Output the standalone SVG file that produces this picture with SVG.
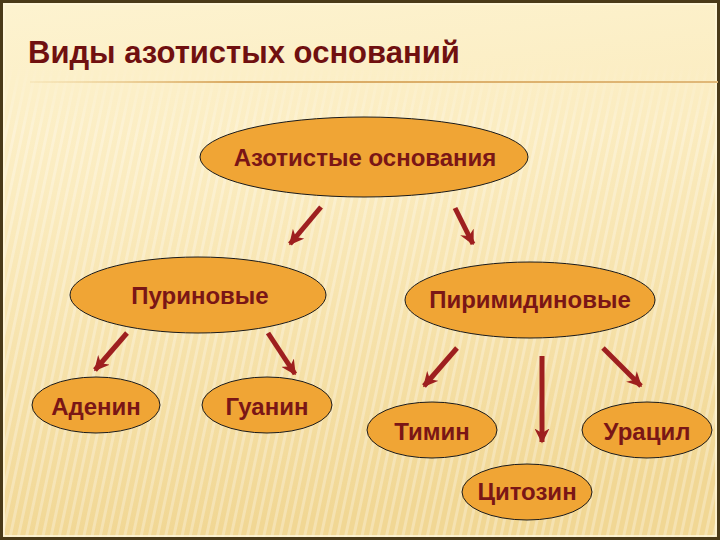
<svg xmlns="http://www.w3.org/2000/svg" width="720" height="540" viewBox="0 0 720 540">
<defs>
<linearGradient id="bg" x1="0" y1="0" x2="0.15" y2="1">
<stop offset="0" stop-color="#FDF3D0"/>
<stop offset="0.35" stop-color="#FBECC0"/>
<stop offset="1" stop-color="#F1D794"/>
</linearGradient>
<linearGradient id="rule" x1="0" y1="0" x2="1" y2="0">
<stop offset="0" stop-color="#E8C888" stop-opacity="0.2"/>
<stop offset="0.3" stop-color="#D9A860"/>
<stop offset="1" stop-color="#E0B878"/>
</linearGradient>
<pattern id="stripes" width="8" height="8" patternUnits="userSpaceOnUse" patternTransform="rotate(12)">
<rect x="0" y="0" width="3" height="8" fill="#FFFFFF" fill-opacity="0.28"/>
</pattern>
<linearGradient id="fade" x1="0" y1="0" x2="0" y2="1">
<stop offset="0" stop-color="#fff" stop-opacity="0"/>
<stop offset="0.15" stop-color="#fff" stop-opacity="1"/>
<stop offset="1" stop-color="#fff" stop-opacity="1"/>
</linearGradient>
<mask id="m"><rect x="0" y="60" width="720" height="480" fill="url(#fade)"/></mask>
<marker id="ah" viewBox="0 0 10 10" refX="9" refY="5" markerWidth="3" markerHeight="3" orient="auto" markerUnits="strokeWidth">
<path d="M0,0 L10,5 L0,10 L3,5 Z" fill="#9E1F1F"/>
</marker>
<style>
.nd{fill:#F0A535;stroke:#1a1a1a;stroke-width:1}
.lb{font-family:"Liberation Sans",Arial,sans-serif;font-weight:bold;font-size:24px;fill:#7A1616;text-anchor:middle}
.ar{stroke:#9E1F1F;stroke-width:5;fill:none;marker-end:url(#ah)}
</style>
</defs>
<rect width="720" height="540" fill="url(#bg)"/>
<rect width="720" height="540" fill="url(#stripes)" mask="url(#m)"/>
<rect x="1.5" y="1.5" width="717" height="537" fill="none" stroke="#4A3A18" stroke-width="3"/>
<rect x="4" y="4" width="712" height="532" fill="none" stroke="#FFF8DD" stroke-width="1.5"/>
<text x="28" y="63" font-family="'Liberation Sans',Arial,sans-serif" font-weight="bold" font-size="31" fill="#701010">Виды азотистых оснований</text>
<rect x="30" y="81" width="688" height="2" fill="url(#rule)"/>
<g id="connectors">
<line class="ar" x1="321" y1="207" x2="290" y2="244"/>
<line class="ar" x1="455" y1="208" x2="473" y2="244"/>
<line class="ar" x1="127" y1="333" x2="95" y2="370"/>
<line class="ar" x1="268" y1="333" x2="295" y2="374"/>
<line class="ar" x1="457" y1="348" x2="424" y2="386"/>
<line class="ar" x1="542" y1="356" x2="542" y2="442"/>
<line class="ar" x1="603" y1="348" x2="641" y2="386"/>
</g>
<g id="root"><ellipse class="nd" cx="364" cy="157" rx="164" ry="40"/><text class="lb" x="365" y="166">Азотистые основания</text></g>
<g id="purine"><ellipse class="nd" cx="198" cy="295" rx="128" ry="38"/><text class="lb" x="200" y="304">Пуриновые</text></g>
<g id="pyrimidine"><ellipse class="nd" cx="530" cy="300" rx="125" ry="38"/><text class="lb" x="530" y="308">Пиримидиновые</text></g>
<g id="adenine"><ellipse class="nd" cx="96" cy="405" rx="64" ry="28"/><text class="lb" x="96" y="415">Аденин</text></g>
<g id="guanine"><ellipse class="nd" cx="267" cy="405" rx="65" ry="28"/><text class="lb" x="267" y="415">Гуанин</text></g>
<g id="thymine"><ellipse class="nd" cx="432" cy="430" rx="65" ry="28"/><text class="lb" x="432" y="440">Тимин</text></g>
<g id="uracil"><ellipse class="nd" cx="647" cy="430" rx="65" ry="28"/><text class="lb" x="647" y="440">Урацил</text></g>
<g id="cytosine"><ellipse class="nd" cx="527" cy="492" rx="65" ry="28"/><text class="lb" x="527" y="500">Цитозин</text></g>
</svg>
